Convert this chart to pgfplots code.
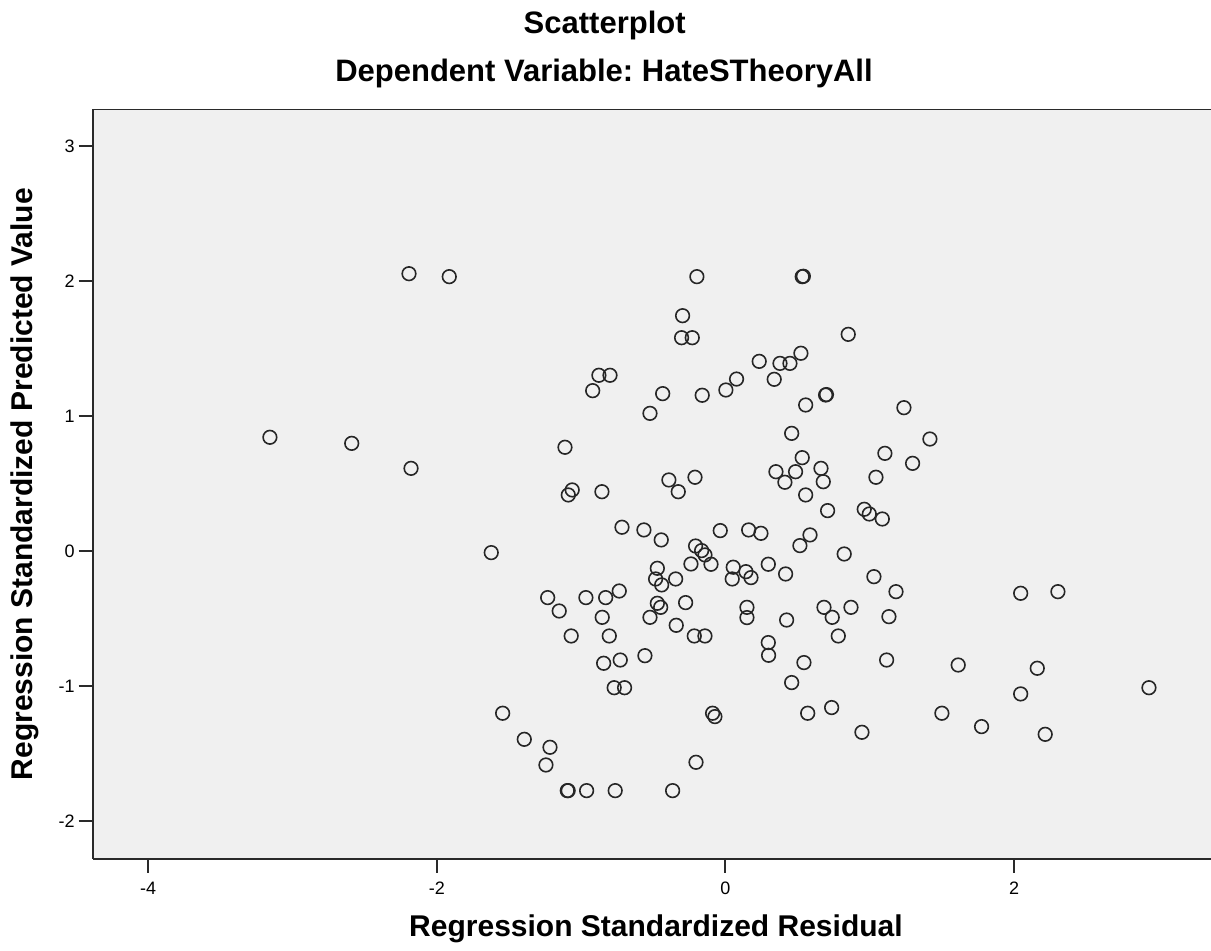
\documentclass[border=0pt]{standalone}
\usepackage{fontspec}
\setmainfont{Liberation Sans}
\usepackage{pgfplots}
\pgfplotsset{compat=1.18}
\definecolor{plotbg}{HTML}{F0F0F0}
\definecolor{frame}{HTML}{2A2A2A}
\frenchspacing

\begin{document}
\begin{tikzpicture}
\begin{axis}[
    scale only axis,
    width=559.15pt, height=374.85pt,
    xmin=-4.385, xmax=3.365,
    ymin=-2.278, ymax=3.272,
    xtick={-4,-2,0,2}, ytick={-2,-1,0,1,2,3},
    axis background/.style={fill=plotbg},
    axis x line*=bottom, axis y line*=left,
    axis line style={frame, line width=1pt, -},
    tick align=outside, major tick length=7pt,
    tick style={frame, line width=1pt},
    /pgf/number format/assume math mode=true,
    ticklabel style={font=\fontsize{9}{10}\selectfont},
    xticklabel style={yshift=-1pt},
    yticklabel style={xshift=1.5pt},
    xlabel={\textbf{Regression Standardized Residual}},
    ylabel={\textbf{Regression Standardized Predicted Value}},
    label style={font=\fontsize{15}{17}\selectfont},
    xlabel style={at={(rel axis cs:0.5037,0)}, anchor=base, yshift=-39pt},
    ylabel style={at={(rel axis cs:-0.0534,0.5)}, anchor=base},
]
\addplot[only marks, mark=o, mark size=3.4pt, mark options={line width=0.8pt, draw=black!85}] coordinates {
(-2.193,2.055) (-1.914,2.033) (-3.157,0.844) (-2.590,0.799) (-2.179,0.614)
(-0.198,2.033) (0.532,2.033) (0.540,2.036) (-0.297,1.744) (-0.304,1.581)
(-0.230,1.581) (0.851,1.606) (0.234,1.406) (0.378,1.391) (0.447,1.391)
(0.523,1.466) (0.338,1.273) (0.077,1.275) (0.003,1.194) (-0.161,1.155)
(-0.435,1.167) (-0.523,1.021) (-0.877,1.303) (-0.800,1.303) (-0.920,1.189)
(0.694,1.157) (0.700,1.160) (0.556,1.083) (0.459,0.873) (0.532,0.693)
(0.350,0.589) (0.486,0.589) (0.412,0.511) (0.662,0.614) (0.678,0.515)
(0.556,0.417) (-1.112,0.770) (-1.062,0.454) (-1.089,0.417) (-0.856,0.441)
(-0.392,0.528) (-0.327,0.441) (-0.211,0.548) (1.237,1.063) (1.417,0.831)
(1.105,0.725) (1.297,0.651) (1.043,0.548) (0.708,0.301) (-1.623,-0.010)
(-0.717,0.178) (-0.565,0.158) (-0.445,0.084) (-0.036,0.153) (0.161,0.158)
(0.246,0.133) (0.586,0.121) (0.516,0.042) (0.823,-0.020) (-0.207,0.039)
(-0.165,0.005) (-0.142,-0.027) (-0.100,-0.096) (-0.239,-0.094) (0.054,-0.118)
(0.047,-0.205) (0.142,-0.151) (0.177,-0.195) (0.297,-0.096) (0.417,-0.168)
(-0.472,-0.126) (-0.484,-0.205) (-0.442,-0.249) (-0.345,-0.205) (-1.232,-0.343)
(-1.152,-0.442) (-0.967,-0.343) (-0.830,-0.343) (-0.736,-0.294) (-0.854,-0.489)
(-1.069,-0.627) (-0.805,-0.627) (-0.472,-0.385) (-0.449,-0.415) (-0.523,-0.489)
(-0.276,-0.380) (-0.341,-0.548) (-0.216,-0.627) (-0.142,-0.627) (0.149,-0.415)
(0.149,-0.491) (0.424,-0.509) (0.683,-0.415) (0.740,-0.489) (0.870,-0.415)
(0.782,-0.627) (0.297,-0.676) (0.299,-0.770) (0.544,-0.824) (0.459,-0.972)
(-0.844,-0.829) (-0.729,-0.805) (-0.558,-0.773) (-0.771,-1.010) (-0.699,-1.010)
(-1.544,-1.199) (-0.089,-1.199) (-0.073,-1.224) (0.570,-1.199) (0.736,-1.157)
(-1.394,-1.392) (-1.216,-1.451) (-1.244,-1.582) (-0.204,-1.562) (-1.096,-1.772)
(-1.090,-1.772) (-0.962,-1.772) (-0.764,-1.772) (-0.366,-1.772) (0.962,0.311)
(0.997,0.276) (1.087,0.239) (1.029,-0.188) (1.182,-0.299) (1.133,-0.484)
(1.117,-0.805) (2.046,-0.311) (2.304,-0.299) (1.613,-0.842) (2.161,-0.866)
(2.046,-1.056) (2.935,-1.010) (0.946,-1.340) (1.500,-1.199) (1.775,-1.298)
(2.216,-1.355)
};
\draw[frame, line width=1pt] (rel axis cs:0,1) -- (rel axis cs:1,1);
\coordinate (sw) at (rel axis cs:0,0);
\coordinate (ne) at (rel axis cs:1,1);
\end{axis}
\node[anchor=base, font=\fontsize{15.5}{17}\selectfont\bfseries] at ([xshift=256pt, yshift=412.85pt]sw) {Scatterplot};
\node[anchor=base, font=\fontsize{15.5}{17}\selectfont\bfseries] at ([xshift=255.65pt, yshift=388.5pt]sw) {Dependent Variable: HateSTheoryAll};
\pgfresetboundingbox
\path ([xshift=-46.35pt, yshift=-46pt]sw) rectangle ([yshift=54.65pt]ne);
\end{tikzpicture}
\end{document}
